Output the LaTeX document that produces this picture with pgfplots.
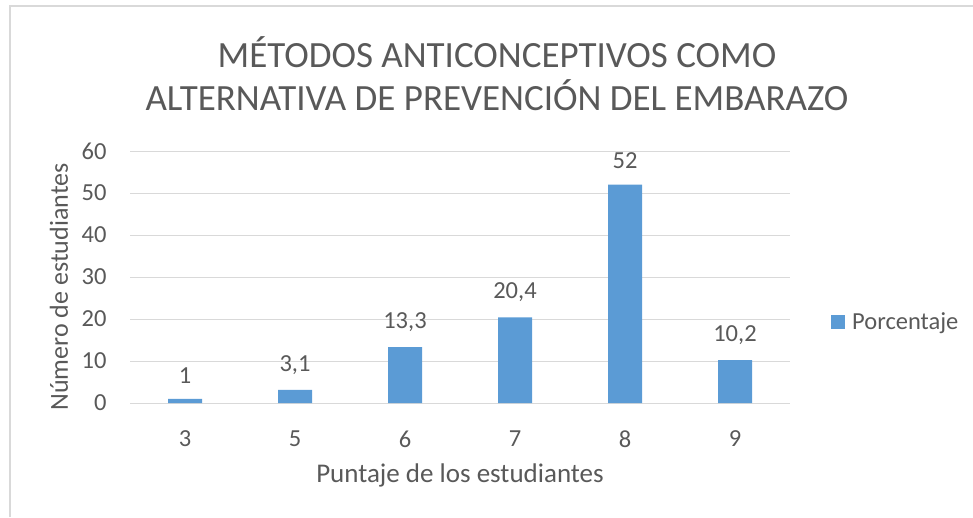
\documentclass[border=0pt]{standalone}
\usepackage{pgfplots}
\pgfplotsset{compat=1.18}
\usepackage{fontspec}
\setmainfont{Carlito}
\definecolor{barblue}{HTML}{5B9BD5}
\definecolor{txt}{HTML}{595959}
\definecolor{gridc}{HTML}{D9D9D9}
\pgfplotstableread{
x val
0 1
1 3.1
2 13.3
3 20.4
4 52
5 10.2
}\datatable
\begin{document}
\begin{tikzpicture}[x=1pt,y=1pt]
\path[use as bounding box] (0pt,0pt) rectangle (973pt,517pt);
\draw[gridc, line width=1.2pt] (10pt,0pt) -- (10pt,511pt) -- (973pt,511pt);
\node[txt, font=\fontsize{37}{43}\selectfont, align=center] at (497pt,443pt) {MÉTODOS ANTICONCEPTIVOS COMO\\ALTERNATIVA DE PREVENCIÓN DEL EMBARAZO};
\node[txt, font=\fontsize{27}{32}\selectfont] at (460pt,42pt) {Puntaje de los estudiantes};
\node[txt, font=\fontsize{26}{31}\selectfont, rotate=90] at (59pt,230pt) {Número de estudiantes};
\begin{axis}[
  at={(130pt,114pt)}, anchor=south west,
  scale only axis, width=660pt, height=252pt,
  ymin=0, ymax=60, ytick={0,10,...,60},
  xmin=-0.5, xmax=5.5,
  xtick=data, xticklabels={3,5,6,7,8,9},
  axis line style={draw=none},
  major tick length=0pt,
  ymajorgrids, grid style={gridc, line width=1pt},
  /pgf/number format/assume math mode=true,
  tick label style={txt, font=\fontsize{24.5}{29}\selectfont},
  xticklabel style={yshift=-24pt},
  yticklabel style={xshift=-20pt},
  ybar, bar width=34pt,
  nodes near coords,
  nodes near coords style={txt, font=\fontsize{24.5}{29}\selectfont, /pgf/number format/use comma, yshift=12pt},
  legend style={at={(1.0,0.323)}, anchor=west, draw=none, fill=none, font=\fontsize{24.5}{29}\selectfont, text=txt, xshift=38pt},
  legend image code/.code={\fill[barblue] (0pt,-7pt) rectangle (14pt,7pt); \path (19pt,0pt);},
]
\addplot[fill=barblue, draw=none] table[x=x, y=val] {\datatable};
\addlegendentry{Porcentaje}
\end{axis}
\end{tikzpicture}
\end{document}
